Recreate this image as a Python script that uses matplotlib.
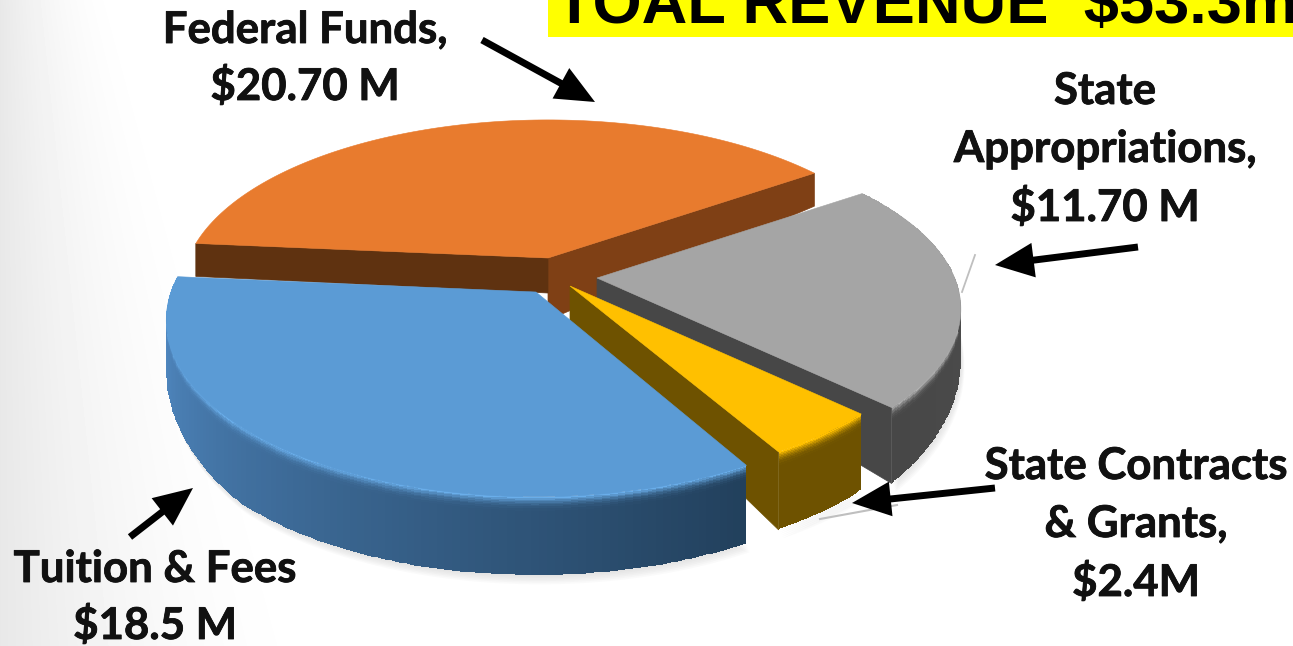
import numpy as np
import matplotlib
matplotlib.use('Agg')
import matplotlib.pyplot as plt
import matplotlib.patheffects as pe
from matplotlib.colors import to_rgb
from matplotlib.patches import Polygon, Rectangle

categories = ['Federal Funds', 'Tuition & Fees', 'State Contracts & Grants', 'State Appropriations']
values = [20.7, 18.5, 2.4, 11.7]
title = 'TOAL REVENUE  $53.3m'
labels = [['Federal Funds,', '$20.70 M'],
          ['Tuition & Fees', '$18.5 M'],
          ['State Contracts', '& Grants,', '$2.4M'],
          ['State', 'Appropriations,', '$11.70 M']]

top_colors = ['#e87b2e', '#5b9bd5', '#ffc000', '#a5a5a5']
START = 35
F = 365


def project(ang, r, cx, cy, g, k):
    u = r * np.cos(np.radians(ang))
    v = -r * np.sin(np.radians(ang))
    d = 1 - k * v
    return cx + F * u / d, cy + g * v / d, v


def depth(v):
    return np.interp(v, [-1, -0.08, 0.2, 0.7, 1], [33, 33, 50, 76, 78])


def wedge(ang0, ang1, r, apex, g, k):
    a = np.linspace(ang0, ang1, 120)
    x, y, v = project(a, r, apex[0], apex[1], g, k)
    return a, x, y, v


def side_mesh(ax, a, x, y, v, col0, col1, rim):
    # strip along the rim, shaded left to right, bright just under the top edge
    n = len(a)
    rows = np.array([0, 0.02, 0.04, 0.06, 0.08, 0.1, 0.12, 0.15, 0.18, 1.0])
    X = np.array([x for _ in rows]).T
    Y = np.array([y + depth(v) * t for t in rows]).T
    C = np.zeros((n - 1, len(rows) - 1, 3))
    col0, col1, rim = map(lambda c: np.array(to_rgb(c)), (col0, col1, rim))
    for i in range(n - 1):
        base = col0 + (col1 - col0) * (i / (n - 2))
        for j in range(len(rows) - 1):
            w = max(0, 1 - j / 8) ** 2
            C[i, j] = base + (rim - base) * w
    ax.pcolormesh(X, Y, C, shading='flat', zorder=3)


def face(ax, p0, p1, d0, d1, color):
    ax.add_patch(Polygon([p0, p1, (p1[0], p1[1] + d1), (p0[0], p0[1] + d0)],
                         closed=True, fc=color, ec=color, lw=0.5, zorder=3))


fig = plt.figure(figsize=(12.93, 6.46), dpi=100)
ax = fig.add_axes([0, 0, 1, 1])
ax.set_xlim(0, 1293)
ax.set_ylim(646, 0)
ax.axis('off')

# pale grey slide background, fading out from the left edge
yy, xx = np.mgrid[0:646, 0:1293]
reach = 130 + 220 * yy / 646
bg = 1 - 0.09 * np.clip(1 - xx / reach, 0, 1) ** 2
ax.imshow(bg, cmap='gray', vmin=0, vmax=1, extent=(0, 1293, 646, 0), aspect='auto', zorder=0)

shares = np.array(values) / sum(values) * 360
edges = START + np.concatenate([[0], np.cumsum(shares)])
apexes = [(548, 258), (536, 292), (570, 286), (597, 278)]
radii = [0.985, 1.0, 0.97, 0.98]
squash = [(166, 0.187), (172, 0.16), (166, 0.187), (166, 0.187)]
geo = [wedge(edges[i], edges[i + 1], radii[i], apexes[i], *squash[i]) for i in range(4)]


def top_patch(i, z=4):
    a, x, y, v = geo[i]
    pts = [apexes[i]] + list(zip(x, y))
    ax.add_patch(Polygon(pts, closed=True, fc=top_colors[i], ec=top_colors[i], lw=0.4, zorder=z))


# soft shadow under the front slices
for i in (1, 2, 3):
    a, x, y, v = geo[i]
    keep = v > -0.1
    bx, by = x[keep], y[keep] + depth(v[keep])
    for s in range(1, 7):
        ax.add_patch(Polygon(np.column_stack([bx + s * 0.6, by + s * 1.6]), closed=True,
                             fc='#808080', ec='none', alpha=0.035, zorder=1))

# orange
a, x, y, v = geo[0]
face(ax, apexes[0], (x[0], y[0]), 62, 33, '#7f4015')
face(ax, apexes[0], (x[-1], y[-1]), 35, 33, '#5f3210')
top_patch(0)

# grey
a, x, y, v = geo[3]
side_mesh(ax, a, x, y, v, '#474747', '#505050', '#b4b4b4')
face(ax, apexes[3], (x[0], y[0]), 30, 76, '#474747')
top_patch(3)

# gold
a, x, y, v = geo[2]
face(ax, apexes[2], (x[0], y[0]), 42, 78, '#6e5200')
side_mesh(ax, a, x, y, v, '#6e5200', '#6e5200', '#ffc000')
top_patch(2)

# blue
a, x, y, v = geo[1]
side_mesh(ax, a, x, y, v, '#5590cc', '#22405c', '#6aaeea')
top_patch(1)

# thin leader lines
ax.plot([975, 962], [255, 292], color='#bfbfbf', lw=1.3, zorder=2)
ax.plot([820, 897], [519, 505], color='#bfbfbf', lw=1.5, zorder=2)

# arrows
arrows = [((482, 40), (595, 102)), ((130, 537), (193, 488)),
          ((995, 488), (852, 503)), ((1138, 247), (995, 265))]
for tail, tip in arrows:
    ax.annotate('', xy=tip, xytext=tail, zorder=6,
                arrowprops=dict(facecolor='black', edgecolor='black', width=5,
                                headwidth=25, headlength=28, shrink=0, lw=0))

# labels
anchors = [(305, [30, 86]), (155, [569, 625]), (1136, [466, 524, 582]), (1105, [91, 149, 207])]
for lines, (cx, ys) in zip(labels, anchors):
    for line, ly in zip(lines, ys):
        t = ax.text(cx, ly, line, ha='center', va='center', family='Lato', weight='bold',
                    fontsize=31.5, color='#111111', zorder=7)
        t.set_path_effects([pe.withStroke(linewidth=0.6, foreground='#111111')])

# title box, clipped by the top and right of the image
ax.add_patch(Rectangle((548, 0), 745, 37, fc='#ffff00', ec='none', zorder=5))
ax.text(555, 23, title, ha='left', va='baseline', family='Liberation Sans', weight='bold',
        fontsize=45.5, color='black', zorder=7, clip_on=True)

fig.savefig('out.png', dpi=100)
